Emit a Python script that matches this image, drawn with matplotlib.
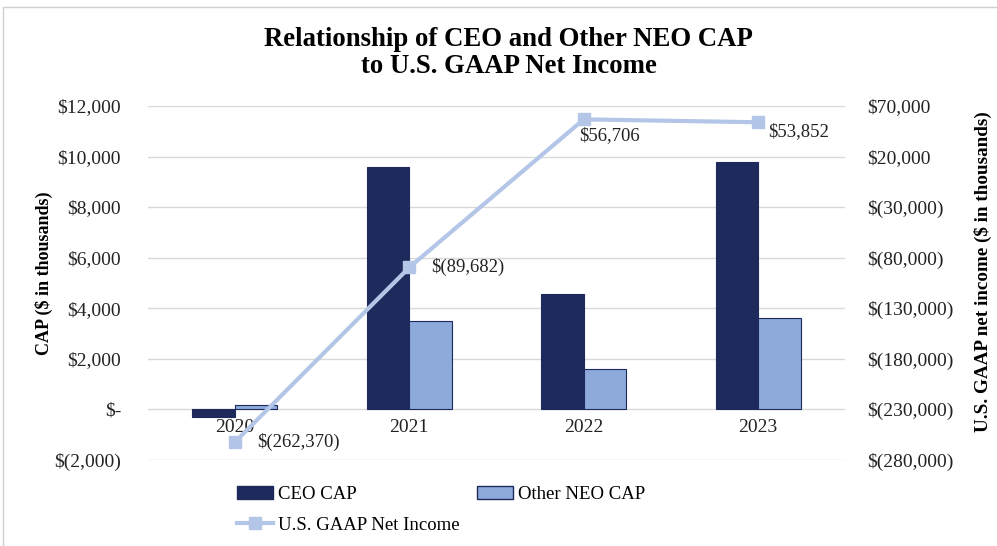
import matplotlib.pyplot as plt
from matplotlib.patches import Rectangle
from matplotlib.lines import Line2D
from matplotlib.patches import Patch
import numpy as np

years = ["2020", "2021", "2022", "2023"]
ceo_cap = [-300, 9600, 4580, 9780]
neo_cap = [190, 3500, 1600, 3600]
net_income = [-262370, -89682, 56706, 53852]
net_income_labels = ["$(262,370)", "$(89,682)", "$56,706", "$53,852"]

plt.rcParams['font.family'] = ['Liberation Serif', 'DejaVu Serif']

dark = "#1f2a5c"
light = "#8eaadb"
line_col = "#b4c6e7"
grid_col = "#d9d9d9"
txt = "#222222"


def money(v, pos=None):
    v = int(round(v))
    if v == 0:
        return "$-"
    if v < 0:
        return "$({:,})".format(-v)
    return "${:,}".format(v)


fig = plt.figure(figsize=(9.97, 5.46), dpi=100)
ax = fig.add_axes([0.148, 0.1575, 0.7, 0.6485])
ax2 = ax.twinx()

x = np.arange(len(years))
w = 0.244
ax.bar(x - w / 2, ceo_cap, w, color=dark, edgecolor=dark, linewidth=0.8, zorder=2)
ax.bar(x + w / 2, neo_cap, w, color=light, edgecolor=dark, linewidth=0.8, zorder=2)

ax.set_ylim(-2000, 12000)
ax.set_yticks(range(-2000, 12001, 2000))
ax.yaxis.set_major_formatter(plt.FuncFormatter(money))
ax.set_xlim(-0.5, 3.5)
ax.set_xticks(x)
ax.set_xticklabels(years)
ax.spines['bottom'].set_position(('data', 0))
for s in ax.spines.values():
    s.set_visible(False)
for s in ax2.spines.values():
    s.set_visible(False)
ax.tick_params(axis='x', length=0, pad=7, labelsize=14, labelcolor=txt)
ax.tick_params(axis='y', length=0, pad=19, labelsize=14, labelcolor=txt)
ax.grid(axis='y', color=grid_col, linewidth=1, zorder=0)
ax.set_axisbelow(True)

ax2.plot(x, net_income, color=line_col, linewidth=3, marker='s', markersize=9,
         markerfacecolor=line_col, markeredgecolor=line_col, zorder=3)
ax2.set_ylim(-280000, 70000)
ax2.set_yticks(range(-280000, 70001, 50000))
ax2.yaxis.set_major_formatter(plt.FuncFormatter(money))
ax2.tick_params(axis='y', length=0, pad=16, labelsize=14, labelcolor=txt)

offsets = [(16, 0), (16, 0), (-3, -11.5), (7, -7)]
for i, (val, lab) in enumerate(zip(net_income, net_income_labels)):
    ax2.annotate(lab, (x[i], val), xytext=offsets[i], textcoords='offset points',
                 ha='left', va='center', fontsize=13.5, color=txt)

ax.set_ylabel("CAP ($ in thousands)", fontsize=13, fontweight='bold')
ax.yaxis.set_label_coords(-0.136, 0.528)
ax2.set_ylabel("U.S. GAAP net income ($ in thousands)", fontsize=13.8,
               fontweight='bold', rotation=90)
ax2.yaxis.set_label_coords(1.184, 0.531)

fig.text(0.51, 0.903, "Relationship of CEO and Other NEO CAP\nto U.S. GAAP Net Income",
         fontsize=19.3, fontweight='bold', ha='center', va='center', linespacing=1.12)

handles = [Patch(facecolor=dark, edgecolor=dark),
           Line2D([0], [0], color=line_col, linewidth=3, marker='s', markersize=9),
           Patch(facecolor=light, edgecolor=dark)]
labels = ["CEO CAP", "U.S. GAAP Net Income", "Other NEO CAP"]
fig.legend(handles, labels, ncol=2, loc='center left', bbox_to_anchor=(0.2377, 0.066),
           frameon=False, fontsize=13.5, handlelength=1.92, handletextpad=0.27,
           columnspacing=0.9, labelspacing=0.7, borderpad=0, borderaxespad=0)

fig.patches.append(Rectangle((0.003, -0.1), 1.1, 1.087, transform=fig.transFigure,
                             fill=False, edgecolor="#d0d0d0", linewidth=1))

fig.savefig("out.png", dpi=100)
